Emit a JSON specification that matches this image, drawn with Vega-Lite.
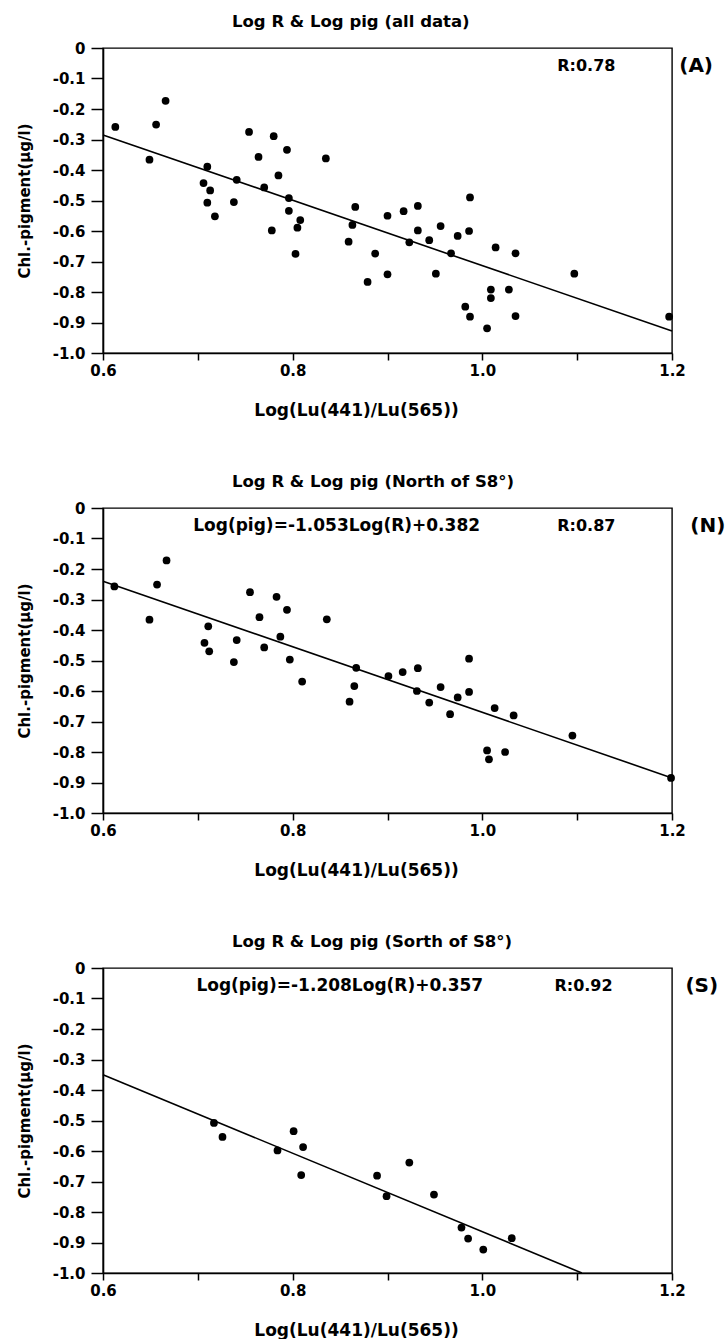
{
  "$schema": "https://vega.github.io/schema/vega-lite/v6.json",
  "padding": {"left": 16, "top": 12, "right": 0, "bottom": 0},
  "spacing": 53,
  "background": "white",
  "config": {
    "font": "DejaVu Sans",
    "view": {"stroke": "black", "strokeWidth": 1.4},
    "axis": {
      "grid": false,
      "domainColor": "black", "domainWidth": 1.6,
      "tickColor": "black", "tickWidth": 1.5,
      "labelFont": "DejaVu Sans", "labelFontWeight": "bold", "labelFontSize": 15, "labelColor": "black",
      "labelFlush": false, "labelOverlap": false,
      "titleFont": "DejaVu Sans", "titleColor": "black"
    },
    "axisX": {"tickSize": 7, "labelPadding": 3, "titleFontSize": 17, "titleFontWeight": "bold", "titlePadding": 24, "titleX": 253},
    "axisY": {"tickSize": 12, "labelPadding": 6, "titleFontSize": 15, "titleFontWeight": "bold", "titlePadding": 20},
    "title": {"font": "DejaVu Sans", "fontSize": 16.5, "fontWeight": "bold", "color": "black", "anchor": "start", "frame": "group", "dx": 129, "offset": 11},
    "text": {"font": "DejaVu Sans", "fontWeight": "bold", "fontSize": 16, "color": "black", "align": "left", "baseline": "middle"}
  },
  "datasets": {
    "A": [
      {"x":0.613,"y":-0.259},{"x":0.649,"y":-0.366},{"x":0.656,"y":-0.251},{"x":0.666,"y":-0.173},
      {"x":0.754,"y":-0.275},{"x":0.780,"y":-0.289},{"x":0.794,"y":-0.334},{"x":0.764,"y":-0.357},
      {"x":0.710,"y":-0.389},{"x":0.835,"y":-0.362},{"x":0.785,"y":-0.418},{"x":0.741,"y":-0.432},
      {"x":0.706,"y":-0.443},{"x":0.713,"y":-0.467},{"x":0.770,"y":-0.457},{"x":0.796,"y":-0.492},
      {"x":0.710,"y":-0.507},{"x":0.738,"y":-0.505},{"x":0.718,"y":-0.552},{"x":0.796,"y":-0.534},
      {"x":0.808,"y":-0.564},{"x":0.805,"y":-0.589},{"x":0.778,"y":-0.598},{"x":0.803,"y":-0.675},
      {"x":0.866,"y":-0.521},{"x":0.863,"y":-0.580},{"x":0.859,"y":-0.635},{"x":0.900,"y":-0.550},
      {"x":0.887,"y":-0.674},{"x":0.879,"y":-0.767},{"x":0.900,"y":-0.742},{"x":0.917,"y":-0.535},
      {"x":0.932,"y":-0.518},{"x":0.987,"y":-0.490},{"x":0.932,"y":-0.598},{"x":0.956,"y":-0.584},
      {"x":0.944,"y":-0.630},{"x":0.923,"y":-0.637},{"x":0.974,"y":-0.616},{"x":0.986,"y":-0.600},
      {"x":0.967,"y":-0.673},{"x":1.014,"y":-0.654},{"x":1.035,"y":-0.673},{"x":0.951,"y":-0.740},
      {"x":1.097,"y":-0.740},{"x":1.009,"y":-0.792},{"x":1.028,"y":-0.792},{"x":1.009,"y":-0.820},
      {"x":0.982,"y":-0.848},{"x":0.987,"y":-0.881},{"x":1.035,"y":-0.879},{"x":1.005,"y":-0.919},
      {"x":1.197,"y":-0.881}
    ],
    "N": [
      {"x":0.612,"y":-0.257},{"x":0.649,"y":-0.366},{"x":0.657,"y":-0.251},{"x":0.667,"y":-0.172},
      {"x":0.755,"y":-0.276},{"x":0.783,"y":-0.291},{"x":0.794,"y":-0.334},{"x":0.765,"y":-0.358},
      {"x":0.711,"y":-0.388},{"x":0.836,"y":-0.365},{"x":0.787,"y":-0.422},{"x":0.741,"y":-0.433},
      {"x":0.707,"y":-0.442},{"x":0.712,"y":-0.470},{"x":0.770,"y":-0.457},{"x":0.797,"y":-0.497},
      {"x":0.738,"y":-0.505},{"x":0.810,"y":-0.569},{"x":0.867,"y":-0.524},{"x":0.865,"y":-0.584},
      {"x":0.860,"y":-0.635},{"x":0.901,"y":-0.551},{"x":0.916,"y":-0.538},{"x":0.932,"y":-0.525},
      {"x":0.986,"y":-0.494},{"x":0.931,"y":-0.600},{"x":0.956,"y":-0.587},{"x":0.944,"y":-0.638},
      {"x":0.974,"y":-0.621},{"x":0.986,"y":-0.603},{"x":0.966,"y":-0.676},{"x":1.013,"y":-0.656},
      {"x":1.033,"y":-0.680},{"x":1.095,"y":-0.746},{"x":1.005,"y":-0.795},{"x":1.024,"y":-0.800},
      {"x":1.007,"y":-0.824},{"x":1.199,"y":-0.885}
    ],
    "S": [
      {"x":0.717,"y":-0.508},{"x":0.726,"y":-0.554},{"x":0.784,"y":-0.598},{"x":0.801,"y":-0.535},
      {"x":0.811,"y":-0.587},{"x":0.809,"y":-0.679},{"x":0.889,"y":-0.681},{"x":0.899,"y":-0.748},
      {"x":0.923,"y":-0.638},{"x":0.949,"y":-0.743},{"x":0.978,"y":-0.851},{"x":0.985,"y":-0.887},
      {"x":1.001,"y":-0.923},{"x":1.031,"y":-0.886}
    ],
    "lineA": [{"x":0.6,"y":-0.285},{"x":1.2,"y":-0.928}],
    "lineN": [{"x":0.6,"y":-0.24},{"x":1.2,"y":-0.885}],
    "lineS": [{"x":0.6,"y":-0.35},{"x":1.105,"y":-1.0}]
  },
  "vconcat": [
    {
      "title": {"text": "Log R & Log pig (all data)"},
      "width": 569, "height": 305,
      "layer": [
        {"data": {"name": "A"}, "mark": {"type": "circle", "size": 60, "color": "black", "opacity": 1},
         "encoding": {
          "x": {"field": "x", "type": "quantitative", "scale": {"domain": [0.6, 1.2], "nice": false, "zero": false},
                "axis": {"title": "Log(Lu(441)/Lu(565))", "values": [0.6,0.7,0.8,0.9,1.0,1.1,1.2], "labelExpr": "indexof(['0.6','0.8','1.0','1.2'], format(datum.value,'.1f')) >= 0 ? format(datum.value,'.1f') : ''"}},
          "y": {"field": "y", "type": "quantitative", "scale": {"domain": [-1, 0], "nice": false, "zero": false},
                "axis": {"title": "Chl.-pigment(µg/l)", "values": [0,-0.1,-0.2,-0.3,-0.4,-0.5,-0.6,-0.7,-0.8,-0.9,-1.0], "labelExpr": "datum.value == 0 ? '0' : replace(format(datum.value,'.1f'), '−', '-')"}}
         }},
        {"data": {"name": "lineA"}, "mark": {"type": "line", "color": "black", "strokeWidth": 1.6},
         "encoding": {
          "x": {"field": "x", "type": "quantitative", "scale": {"domain": [0.6, 1.2], "nice": false, "zero": false},
                "axis": {"title": "Log(Lu(441)/Lu(565))", "values": [0.6,0.7,0.8,0.9,1.0,1.1,1.2], "labelExpr": "indexof(['0.6','0.8','1.0','1.2'], format(datum.value,'.1f')) >= 0 ? format(datum.value,'.1f') : ''"}},
          "y": {"field": "y", "type": "quantitative", "scale": {"domain": [-1, 0], "nice": false, "zero": false},
                "axis": {"title": "Chl.-pigment(µg/l)", "values": [0,-0.1,-0.2,-0.3,-0.4,-0.5,-0.6,-0.7,-0.8,-0.9,-1.0], "labelExpr": "datum.value == 0 ? '0' : replace(format(datum.value,'.1f'), '−', '-')"}}
         }},
        {"data": {"values": [{"t": "R:0.78", "u": "(A)"}]},
         "encoding": {
          "x": {"datum": 1.079, "type": "quantitative", "scale": {"domain": [0.6, 1.2], "nice": false, "zero": false},
                "axis": {"title": "Log(Lu(441)/Lu(565))", "values": [0.6,0.7,0.8,0.9,1.0,1.1,1.2], "labelExpr": "indexof(['0.6','0.8','1.0','1.2'], format(datum.value,'.1f')) >= 0 ? format(datum.value,'.1f') : ''"}},
          "y": {"datum": -0.06, "type": "quantitative", "scale": {"domain": [-1, 0], "nice": false, "zero": false},
                "axis": {"title": "Chl.-pigment(µg/l)", "values": [0,-0.1,-0.2,-0.3,-0.4,-0.5,-0.6,-0.7,-0.8,-0.9,-1.0], "labelExpr": "datum.value == 0 ? '0' : replace(format(datum.value,'.1f'), '−', '-')"}}
         },
         "layer": [
          {"mark": {"type": "text"}, "encoding": {"text": {"field": "t"}}},
          {"mark": {"type": "text", "fontSize": 20, "dx": 122}, "encoding": {"text": {"field": "u"}}}
         ]}
      ]
    },
    {
      "title": {"text": "Log R & Log pig (North of S8°)"},
      "width": 569, "height": 305,
      "layer": [
        {"data": {"name": "N"}, "mark": {"type": "circle", "size": 60, "color": "black", "opacity": 1},
         "encoding": {
          "x": {"field": "x", "type": "quantitative", "scale": {"domain": [0.6, 1.2], "nice": false, "zero": false},
                "axis": {"title": "Log(Lu(441)/Lu(565))", "values": [0.6,0.7,0.8,0.9,1.0,1.1,1.2], "labelExpr": "indexof(['0.6','0.8','1.0','1.2'], format(datum.value,'.1f')) >= 0 ? format(datum.value,'.1f') : ''"}},
          "y": {"field": "y", "type": "quantitative", "scale": {"domain": [-1, 0], "nice": false, "zero": false},
                "axis": {"title": "Chl.-pigment(µg/l)", "values": [0,-0.1,-0.2,-0.3,-0.4,-0.5,-0.6,-0.7,-0.8,-0.9,-1.0], "labelExpr": "datum.value == 0 ? '0' : replace(format(datum.value,'.1f'), '−', '-')"}}
         }},
        {"data": {"name": "lineN"}, "mark": {"type": "line", "color": "black", "strokeWidth": 1.6},
         "encoding": {
          "x": {"field": "x", "type": "quantitative", "scale": {"domain": [0.6, 1.2], "nice": false, "zero": false},
                "axis": {"title": "Log(Lu(441)/Lu(565))", "values": [0.6,0.7,0.8,0.9,1.0,1.1,1.2], "labelExpr": "indexof(['0.6','0.8','1.0','1.2'], format(datum.value,'.1f')) >= 0 ? format(datum.value,'.1f') : ''"}},
          "y": {"field": "y", "type": "quantitative", "scale": {"domain": [-1, 0], "nice": false, "zero": false},
                "axis": {"title": "Chl.-pigment(µg/l)", "values": [0,-0.1,-0.2,-0.3,-0.4,-0.5,-0.6,-0.7,-0.8,-0.9,-1.0], "labelExpr": "datum.value == 0 ? '0' : replace(format(datum.value,'.1f'), '−', '-')"}}
         }},
        {"data": {"values": [{"e": "Log(pig)=-1.053Log(R)+0.382", "t": "R:0.87", "u": "(N)"}]},
         "encoding": {
          "x": {"datum": 1.079, "type": "quantitative", "scale": {"domain": [0.6, 1.2], "nice": false, "zero": false},
                "axis": {"title": "Log(Lu(441)/Lu(565))", "values": [0.6,0.7,0.8,0.9,1.0,1.1,1.2], "labelExpr": "indexof(['0.6','0.8','1.0','1.2'], format(datum.value,'.1f')) >= 0 ? format(datum.value,'.1f') : ''"}},
          "y": {"datum": -0.06, "type": "quantitative", "scale": {"domain": [-1, 0], "nice": false, "zero": false},
                "axis": {"title": "Chl.-pigment(µg/l)", "values": [0,-0.1,-0.2,-0.3,-0.4,-0.5,-0.6,-0.7,-0.8,-0.9,-1.0], "labelExpr": "datum.value == 0 ? '0' : replace(format(datum.value,'.1f'), '−', '-')"}}
         },
         "layer": [
          {"mark": {"type": "text", "fontSize": 17, "dx": -364}, "encoding": {"text": {"field": "e"}}},
          {"mark": {"type": "text"}, "encoding": {"text": {"field": "t"}}},
          {"mark": {"type": "text", "fontSize": 20, "dx": 133}, "encoding": {"text": {"field": "u"}}}
         ]}
      ]
    },
    {
      "title": {"text": "Log R & Log pig (Sorth of S8°)"},
      "width": 569, "height": 305,
      "layer": [
        {"data": {"name": "S"}, "mark": {"type": "circle", "size": 60, "color": "black", "opacity": 1},
         "encoding": {
          "x": {"field": "x", "type": "quantitative", "scale": {"domain": [0.6, 1.2], "nice": false, "zero": false},
                "axis": {"title": "Log(Lu(441)/Lu(565))", "values": [0.6,0.7,0.8,0.9,1.0,1.1,1.2], "labelExpr": "indexof(['0.6','0.8','1.0','1.2'], format(datum.value,'.1f')) >= 0 ? format(datum.value,'.1f') : ''"}},
          "y": {"field": "y", "type": "quantitative", "scale": {"domain": [-1, 0], "nice": false, "zero": false},
                "axis": {"title": "Chl.-pigment(µg/l)", "values": [0,-0.1,-0.2,-0.3,-0.4,-0.5,-0.6,-0.7,-0.8,-0.9,-1.0], "labelExpr": "datum.value == 0 ? '0' : replace(format(datum.value,'.1f'), '−', '-')"}}
         }},
        {"data": {"name": "lineS"}, "mark": {"type": "line", "color": "black", "strokeWidth": 1.6},
         "encoding": {
          "x": {"field": "x", "type": "quantitative", "scale": {"domain": [0.6, 1.2], "nice": false, "zero": false},
                "axis": {"title": "Log(Lu(441)/Lu(565))", "values": [0.6,0.7,0.8,0.9,1.0,1.1,1.2], "labelExpr": "indexof(['0.6','0.8','1.0','1.2'], format(datum.value,'.1f')) >= 0 ? format(datum.value,'.1f') : ''"}},
          "y": {"field": "y", "type": "quantitative", "scale": {"domain": [-1, 0], "nice": false, "zero": false},
                "axis": {"title": "Chl.-pigment(µg/l)", "values": [0,-0.1,-0.2,-0.3,-0.4,-0.5,-0.6,-0.7,-0.8,-0.9,-1.0], "labelExpr": "datum.value == 0 ? '0' : replace(format(datum.value,'.1f'), '−', '-')"}}
         }},
        {"data": {"values": [{"e": "Log(pig)=-1.208Log(R)+0.357", "t": "R:0.92", "u": "(S)"}]},
         "encoding": {
          "x": {"datum": 1.076, "type": "quantitative", "scale": {"domain": [0.6, 1.2], "nice": false, "zero": false},
                "axis": {"title": "Log(Lu(441)/Lu(565))", "values": [0.6,0.7,0.8,0.9,1.0,1.1,1.2], "labelExpr": "indexof(['0.6','0.8','1.0','1.2'], format(datum.value,'.1f')) >= 0 ? format(datum.value,'.1f') : ''"}},
          "y": {"datum": -0.06, "type": "quantitative", "scale": {"domain": [-1, 0], "nice": false, "zero": false},
                "axis": {"title": "Chl.-pigment(µg/l)", "values": [0,-0.1,-0.2,-0.3,-0.4,-0.5,-0.6,-0.7,-0.8,-0.9,-1.0], "labelExpr": "datum.value == 0 ? '0' : replace(format(datum.value,'.1f'), '−', '-')"}}
         },
         "layer": [
          {"mark": {"type": "text", "fontSize": 17, "dx": -358}, "encoding": {"text": {"field": "e"}}},
          {"mark": {"type": "text"}, "encoding": {"text": {"field": "t"}}},
          {"mark": {"type": "text", "fontSize": 20, "dx": 131}, "encoding": {"text": {"field": "u"}}}
         ]}
      ]
    }
  ]
}
